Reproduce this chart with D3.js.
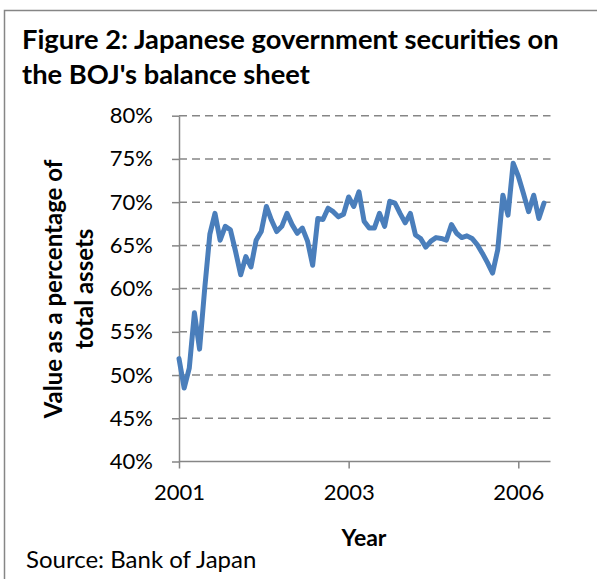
<!DOCTYPE html>
<html>
<head>
<meta charset="utf-8">
<script src="https://cdn.jsdelivr.net/npm/d3@7"></script>
<style>
  body { margin: 0; background: #fff; }
  text { font-family: Lato, "Open Sans", sans-serif; fill: #000; }
</style>
</head>
<body>
<svg width="597" height="579"></svg>
<script>
// monthly-ish observations, share of JGBs in BOJ total assets (%)
var values = [
  51.9, 48.5, 50.8, 57.2, 53.0, 60.0, 66.3, 68.7, 65.6, 67.2,
  66.8, 64.3, 61.6, 63.7, 62.5, 65.6, 66.6, 69.5, 67.9, 66.6,
  67.2, 68.7, 67.4, 66.4, 67.0, 65.5, 62.7, 68.1, 68.0, 69.3,
  68.9, 68.3, 68.6, 70.6, 69.5, 71.2, 67.8, 67.0, 67.0, 68.7,
  67.2, 70.1, 69.9, 68.7, 67.6, 68.7, 66.2, 65.8, 64.8, 65.5,
  65.9, 65.8, 65.6, 67.4, 66.4, 65.9, 66.1, 65.8, 65.1, 64.1,
  63.0, 61.8, 64.5, 70.8, 68.5, 74.5, 73.0, 71.0, 68.9, 70.8,
  68.1, 69.9
];
var yearTicks = [0, 33, 66];
var yearLabels = ["2001", "2003", "2006"];
var pctTicks = [40, 45, 50, 55, 60, 65, 70, 75, 80];

var svg = d3.select("svg");
var grey = "#868686";

// frame around the figure
svg.append("path")
  .attr("d", "M4.5,600 V10.5 H600")
  .attr("fill", "none")
  .attr("stroke", grey)
  .attr("stroke-width", 1.5);

svg.append("text").attr("x", 22).attr("y", 49)
  .style("font-size", "27.3px").style("font-weight", "bold")
  .text("Figure 2: Japanese government securities on");
svg.append("text").attr("x", 22).attr("y", 84)
  .style("font-size", "27.3px").style("font-weight", "bold")
  .text("the BOJ's balance sheet");

var x0 = 179, x1 = 544;
var xScale = d3.scaleLinear()
  .domain([0, values.length - 1])
  .range([x0, x1]);
var yScale = d3.scaleLinear()
  .domain([40, 80])
  .range([461.5, 115.7]);
var xEnd = 550.5;

// gridlines
svg.append("g")
  .selectAll("line")
  .data(pctTicks.slice(1))
  .enter()
  .append("line")
  .attr("x1", x0).attr("x2", xEnd)
  .attr("y1", d => yScale(d)).attr("y2", d => yScale(d))
  .attr("stroke", grey)
  .attr("stroke-width", 1.5)
  .attr("stroke-dasharray", "8,5");

var yAxis = d3.axisLeft(yScale)
  .tickValues(pctTicks)
  .tickFormat(d => d + "%")
  .tickSize(7)
  .tickPadding(19)
  .tickSizeOuter(0);

var gy = svg.append("g")
  .attr("transform", "translate(" + x0 + ",0)")
  .call(yAxis);
gy.select(".domain").attr("stroke", grey).attr("stroke-width", 1.5);
gy.selectAll(".tick line").attr("stroke", grey).attr("stroke-width", 1.5);
gy.selectAll(".tick text")
  .attr("fill", "#000")
  .style("font-family", "Lato, sans-serif")
  .style("font-size", "22px");

var xAxis = d3.axisBottom(xScale)
  .tickValues(yearTicks)
  .tickFormat((d, i) => yearLabels[i])
  .tickSize(7)
  .tickPadding(16)
  .tickSizeOuter(0);

var gx = svg.append("g")
  .attr("transform", "translate(0,461.5)")
  .call(xAxis);
gx.select(".domain")
  .attr("d", "M" + x0 + ",0H" + xEnd)
  .attr("stroke", grey).attr("stroke-width", 1.5);
gx.selectAll(".tick line").attr("stroke", grey).attr("stroke-width", 1.5);
gx.selectAll(".tick text")
  .attr("fill", "#000")
  .style("font-family", "Lato, sans-serif")
  .style("font-size", "22px");

var line = d3.line()
  .x((d, i) => xScale(i))
  .y(d => yScale(d));

svg.append("path")
  .datum(values)
  .attr("d", line)
  .attr("fill", "none")
  .attr("stroke", "#4a7ebb")
  .attr("stroke-width", 5)
  .attr("stroke-linejoin", "round")
  .attr("stroke-linecap", "round");

// axis titles
var yTitle = svg.append("text")
  .attr("transform", "translate(62,289) rotate(-90)")
  .attr("text-anchor", "middle")
  .style("font-size", "24px").style("font-weight", "bold");
yTitle.append("tspan").attr("x", 0).attr("dy", 0).text("Value as a percentage of");
yTitle.append("tspan").attr("x", 0).attr("dy", 31).text("total assets");

svg.append("text")
  .attr("x", 364).attr("y", 546)
  .attr("text-anchor", "middle")
  .style("font-size", "23px").style("font-weight", "bold")
  .text("Year");

svg.append("text")
  .attr("x", 26).attr("y", 568)
  .style("font-size", "24px")
  .text("Source: Bank of Japan");
</script>
</body>
</html>
